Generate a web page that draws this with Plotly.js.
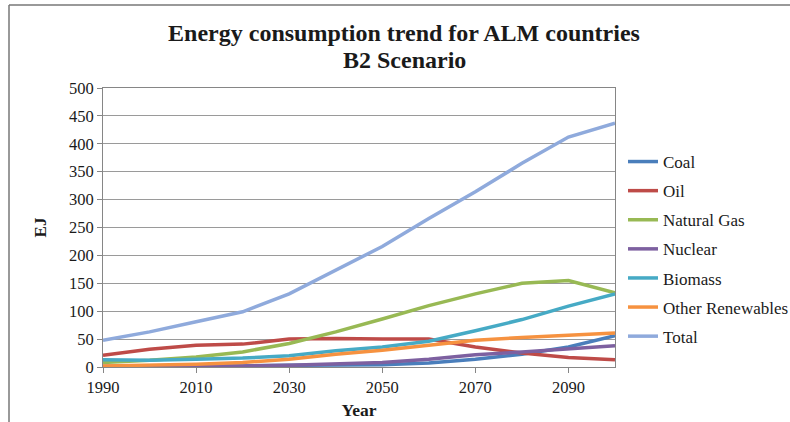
<!DOCTYPE html>
<html>
<head>
<meta charset="utf-8">
<script src="https://cdn.plot.ly/plotly-3.0.1.min.js"></script>
<style>
html,body{margin:0;padding:0;background:#fff;}
#chart{width:790px;height:422px;}
</style>
</head>
<body>
<div id="chart"></div>
<script>
const years = [1990, 2000, 2010, 2020, 2030, 2040, 2050, 2060, 2070, 2080, 2090, 2100];
const coal = [1, 1, 2, 2, 3, 3, 4, 7, 14, 23, 36, 56];
const oil = [21, 32, 39, 41, 50, 51, 50, 50, 36, 25, 17, 13];
const naturalGas = [8, 12, 18, 27, 42, 63, 86, 110, 131, 150, 155, 133];
const nuclear = [1, 1, 1, 2, 3, 5, 8, 14, 22, 27, 32, 38];
const biomass = [13, 12, 14, 16, 20, 29, 36, 46, 65, 85, 109, 131];
const otherRenewables = [2, 3, 5, 8, 14, 23, 30, 39, 48, 53, 57, 61];
const total = [48, 63, 81, 99, 131, 174, 216, 266, 314, 365, 412, 437];

const seriesNames = ["Coal", "Oil", "Natural Gas", "Nuclear", "Biomass", "Other Renewables", "Total"];
const seriesValues = [coal, oil, naturalGas, nuclear, biomass, otherRenewables, total];
const seriesColors = ["#4A7EBB", "#BE4B48", "#98B954", "#7D60A0", "#46AAC5", "#F69240", "#8FAADC"];

const titleLine1 = "Energy consumption trend for ALM countries";
const titleLine2 = "B2 Scenario";

const serif = "'Liberation Serif', 'Times New Roman', serif";

const traces = seriesNames.map((name, i) => ({
  x: years,
  y: seriesValues[i],
  name: name,
  type: "scatter",
  mode: "lines",
  legendgroup: "g" + i,
  line: {color: seriesColors[i], width: 3.5, shape: "linear"}
}));

const L = 103, R = 615, T = 88, B = 367;
const px2x = p => (p - L) / (R - L);
const py2y = p => (B - p) / (B - T);

const layout = {
  width: 790,
  height: 422,
  margin: {l: L, r: 790 - R, t: T, b: 422 - B, autoexpand: false},
  paper_bgcolor: "#ffffff",
  plot_bgcolor: "#ffffff",
  font: {family: serif, size: 16.5, color: "#1a1a1a"},
  title: {
    text: "<b>" + titleLine1 + "</b>",
    font: {family: serif, size: 24, color: "#1a1a1a"},
    x: px2x(404), xref: "paper", xanchor: "center",
    y: 1 - 33 / 422, yref: "container", yanchor: "middle"
  },
  annotations: [{
    text: "<b>" + titleLine2 + "</b>",
    xref: "paper", yref: "paper",
    x: px2x(404), y: py2y(60),
    xanchor: "center", yanchor: "middle",
    showarrow: false,
    font: {family: serif, size: 24, color: "#1a1a1a"}
  }],
  xaxis: {
    range: [1990, 2100],
    tickmode: "linear", tick0: 1990, dtick: 20,
    ticks: "outside", ticklen: 5, tickcolor: "#868686",
    showgrid: false, zeroline: false,
    showline: true, linecolor: "#868686", linewidth: 1, mirror: true,
    tickfont: {family: serif, size: 16.5, color: "#1a1a1a"},
    title: {text: "<b>Year</b>", font: {family: serif, size: 17.5, color: "#1a1a1a"}, standoff: 7}
  },
  yaxis: {
    range: [0, 500],
    tickmode: "linear", tick0: 0, dtick: 50,
    ticks: "outside", ticklen: 5, tickcolor: "#868686",
    showgrid: true, gridcolor: "#9a9a9a", gridwidth: 1,
    zeroline: false,
    showline: true, linecolor: "#868686", linewidth: 1, mirror: true,
    tickfont: {family: serif, size: 16.5, color: "#1a1a1a"},
    title: {text: "<b>EJ</b>", font: {family: serif, size: 17, color: "#1a1a1a"}, standoff: 18}
  },
  legend: {
    x: px2x(623), xanchor: "left",
    y: py2y(144), yanchor: "top",
    font: {family: serif, size: 17, color: "#1a1a1a"},
    bgcolor: "rgba(0,0,0,0)",
    traceorder: "grouped",
    tracegroupgap: 4
  },
  shapes: [
    {type: "line", xref: "paper", yref: "paper", x0: px2x(9), x1: px2x(800), y0: py2y(5), y1: py2y(5), line: {color: "#777777", width: 1.5}},
    {type: "line", xref: "paper", yref: "paper", x0: px2x(9), x1: px2x(9), y0: py2y(5), y1: py2y(430), line: {color: "#777777", width: 1.5}}
  ],
  showlegend: true
};

Plotly.newPlot("chart", traces, layout, {displayModeBar: false, staticPlot: true});
</script>
</body>
</html>
